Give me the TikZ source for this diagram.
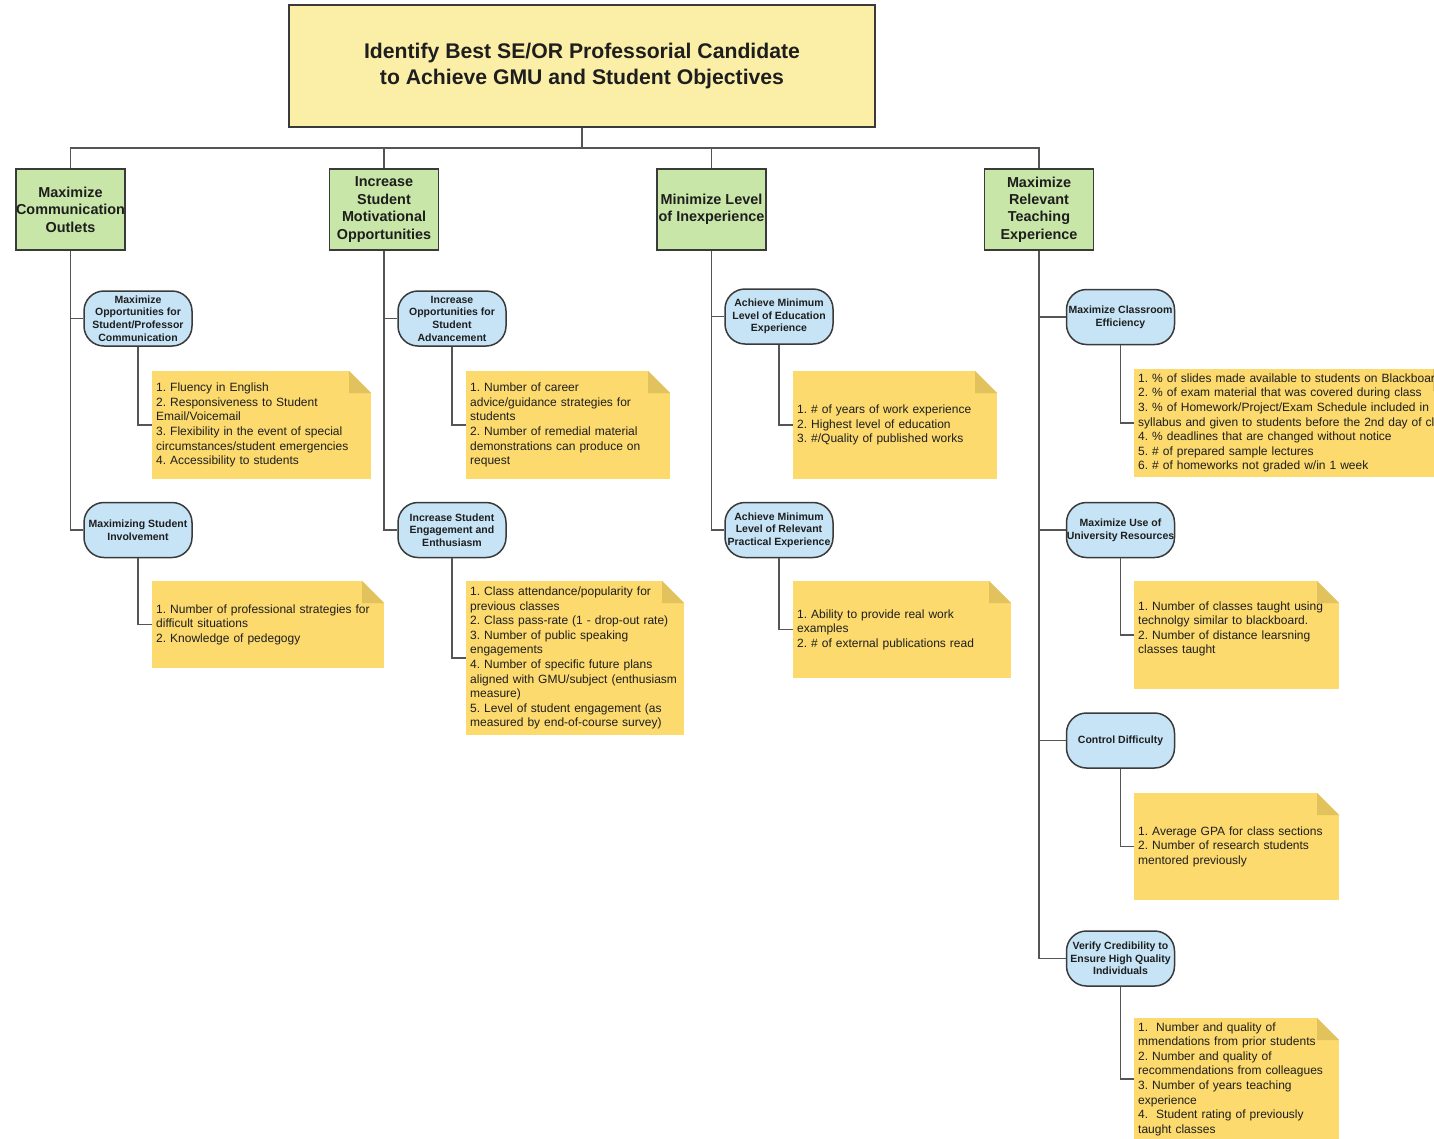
\documentclass[tikz,border=0pt]{standalone}
\usepackage{fontspec}
\setmainfont{Liberation Sans}
\usetikzlibrary{shapes}
\frenchspacing

\definecolor{titlefill}{HTML}{FBEFA8}
\definecolor{goalfill}{HTML}{C8E6A8}
\definecolor{subfill}{HTML}{C6E4F6}
\definecolor{notefill}{HTML}{FCDA6E}
\definecolor{notefold}{HTML}{E2C25C}
\definecolor{edgecol}{HTML}{3A3A3A}
\definecolor{linkcol}{HTML}{555555}
\definecolor{inkcol}{HTML}{1E1E1E}

\tikzset{
  topbox/.style={rectangle, draw=edgecol, line width=1.5pt, fill=titlefill, minimum width=586pt, minimum height=122pt, align=center, text=inkcol, font=\fontsize{21.2}{26}\selectfont\bfseries},
  goalbox/.style={rectangle, draw=edgecol, line width=1.5pt, fill=goalfill, minimum width=109pt, minimum height=81pt, inner sep=0pt, align=center, text=inkcol, font=\fontsize{14.4}{17.4}\selectfont\bfseries},
  subbox/.style={rectangle, rounded corners=20pt, draw=edgecol, line width=1.5pt, fill=subfill, minimum width=108pt, minimum height=55pt, inner sep=0pt, align=center, text=inkcol, font=\fontsize{10.5}{12.7}\selectfont\bfseries},
  metric/.style={rectangle, fill=notefill, anchor=west, align=left, inner xsep=4pt, inner ysep=0pt, text=inkcol, font=\fontsize{12}{14.6}\selectfont\frenchspacing,
    path picture={
      \fill [white] ([xshift=-22pt]path picture bounding box.north east) -- (path picture bounding box.north east) -- ([yshift=-22pt]path picture bounding box.north east) -- cycle;
      \fill [notefold] ([xshift=-22pt]path picture bounding box.north east) -- ([xshift=-22pt,yshift=-22pt]path picture bounding box.north east) -- ([yshift=-22pt]path picture bounding box.north east) -- cycle;
    }},
  link/.style={draw=linkcol, line width=1.5pt}
}

\newcommand{\qtop}[3]{\node at (#1) (#2) [topbox] {#3};}
\newcommand{\qgoal}[3]{\node at (#1) (#2) [goalbox] {#3};}
\newcommand{\qsub}[3]{\node at (#1) (#2) [subbox] {#3};}
\newcommand{\qmetric}[4][]{\node at (#2) (#3) [metric, #1] {#4};}
\newcommand{\qlink}[2]{\draw [link] (#1) |- (#2);}

\begin{document}
\begin{tikzpicture}[x=1pt, y=-1pt]

\fill [white] (0,0) rectangle (1434,1138);
\useasboundingbox (0,0) rectangle (1434,1138);

\qtop{582,66}{title}{Identify Best SE/OR Professorial Candidate\\to Achieve GMU and Student Objectives}
\coordinate (bus) at (582,148);

\qgoal{70.5,209.5}{g1}{Maximize\\Communication\\Outlets}
\qgoal{384,209.5}{g2}{Increase\\Student\\Motivational\\Opportunities}
\qgoal{711.5,209.5}{g3}{Minimize Level\\of Inexperience}
\qgoal{1039,209.5}{g4}{Maximize\\Relevant\\Teaching\\Experience}

\qsub{138,318.5}{s1a}{Maximize\\Opportunities for\\Student/Professor\\Communication}
\qsub{138,530}{s1b}{Maximizing Student\\Involvement}
\qsub{452,318.5}{s2a}{Increase\\Opportunities for\\Student\\Advancement}
\qsub{452,530}{s2b}{Increase Student\\Engagement and\\Enthusiasm}
\qsub{779,316.5}{s3a}{Achieve Minimum\\Level of Education\\Experience}
\qsub{779,530}{s3b}{Achieve Minimum\\Level of Relevant\\Practical Experience}
\qsub{1120.5,317}{s4a}{Maximize Classroom\\Efficiency}
\qsub{1120.5,530}{s4b}{Maximize Use of\\University Resources}
\qsub{1120.5,740.5}{s4c}{Control Difficulty}
\qsub{1120.5,958.5}{s4d}{Verify Credibility to\\Ensure High Quality\\Individuals}

\qmetric[text width=211pt, minimum height=108pt]{152,425}{m1a}{1. Fluency in English\\2. Responsiveness to Student\\Email/Voicemail\\3. Flexibility in the event of special\\circumstances/student emergencies\\4. Accessibility to students}
\qmetric[text width=224pt, minimum height=87pt]{152,624.5}{m1b}{1. Number of professional strategies for\\difficult situations\\2. Knowledge of pedegogy}
\qmetric[text width=196pt, minimum height=108pt]{466,425}{m2a}{1. Number of career\\advice/guidance strategies for\\students\\2. Number of remedial material\\demonstrations can produce on\\request}
\qmetric[text width=210pt, minimum height=154pt]{466,658}{m2b}{1. Class attendance/popularity for\\previous classes\\2. Class pass-rate (1 - drop-out rate)\\3. Number of public speaking\\engagements\\4. Number of specific future plans\\aligned with GMU/subject (enthusiasm\\measure)\\5. Level of student engagement (as\\measured by end-of-course survey)}
\qmetric[text width=196pt, minimum height=108pt]{793,425}{m3a}{1. \# of years of work experience\\2. Highest level of education\\3. \#/Quality of published works}
\qmetric[text width=210pt, minimum height=97pt]{793,629.5}{m3b}{1. Ability to provide real work\\examples\\2. \# of external publications read}
\qmetric[text width=313pt, minimum height=108pt]{1134,423}{m4a}{\mbox{1. \% of slides made available to students on Blackboard}\\2. \% of exam material that was covered during class\\3. \% of Homework/Project/Exam Schedule included in\\\mbox{syllabus and given to students before the 2nd day of class}\\4. \% deadlines that are changed without notice\\5. \# of prepared sample lectures\\6. \# of homeworks not graded w/in 1 week}
\qmetric[text width=197pt, minimum height=108pt]{1134,635}{m4b}{1. Number of classes taught using\\technolgy similar to blackboard.\\2. Number of distance learsning\\classes taught\\\mbox{}}
\qmetric[text width=197pt, minimum height=107pt]{1134,846.5}{m4c}{1. Average GPA for class sections\\2. Number of research students\\mentored previously}
\qmetric[text width=197pt, minimum height=122pt]{1134,1079}{m4d}{1.\ \ Number and quality of\\mmendations from prior students\\2. Number and quality of\\recommendations from colleagues\\3. Number of years teaching\\experience\\4.\ \ Student rating of previously\\taught classes}

\draw [link] (title.south) -- (bus) -| (g1.north);
\draw [link] (title.south) -- (bus) -| (g2.north);
\draw [link] (title.south) -- (bus) -| (g3.north);
\draw [link] (title.south) -- (bus) -| (g4.north);

\qlink{g1.south}{s1a.west}
\qlink{g1.south}{s1b.west}
\qlink{g2.south}{s2a.west}
\qlink{g2.south}{s2b.west}
\qlink{g3.south}{s3a.west}
\qlink{g3.south}{s3b.west}
\qlink{g4.south}{s4a.west}
\qlink{g4.south}{s4b.west}
\qlink{g4.south}{s4c.west}
\qlink{g4.south}{s4d.west}

\qlink{s1a.south}{m1a.west}
\qlink{s1b.south}{m1b.west}
\qlink{s2a.south}{m2a.west}
\qlink{s2b.south}{m2b.west}
\qlink{s3a.south}{m3a.west}
\qlink{s3b.south}{m3b.west}
\qlink{s4a.south}{m4a.west}
\qlink{s4b.south}{m4b.west}
\qlink{s4c.south}{m4c.west}
\qlink{s4d.south}{m4d.west}

\end{tikzpicture}
\end{document}
